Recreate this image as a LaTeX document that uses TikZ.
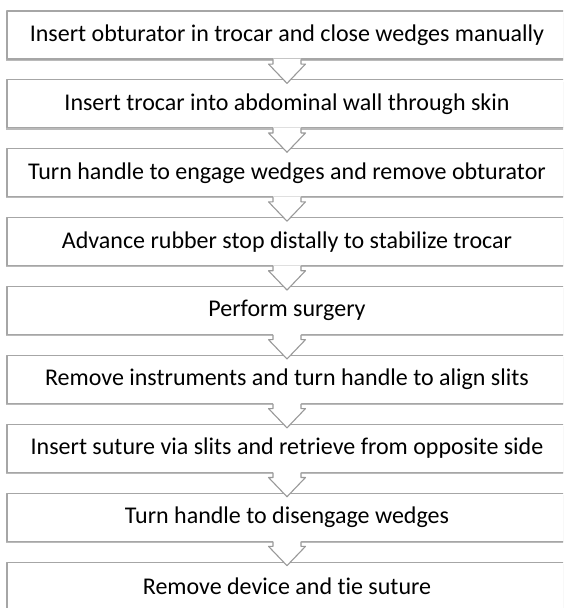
\documentclass[tikz,border=0pt]{standalone}
\usepackage{fontspec}
\setmainfont{Carlito}[Ligatures=NoCommon]
\usetikzlibrary{positioning,calc,shadows}

\begin{document}
\begin{tikzpicture}[x=1pt,y=1pt, line cap=round,line join=round,
		stepbox/.style={draw=black!35, line width=1.1pt, fill=white,
			minimum width=560pt, minimum height=48pt, inner sep=0pt,
			drop shadow={shadow xshift=-1.2pt, shadow yshift=-1.6pt, opacity=0.45, fill=black!60},
			font=\fontsize{24}{26}\selectfont},
		downarrow/.style={draw=black!40, line width=1.1pt, fill=white}]
	
	% ---- parameters
	\def\pitch{68.9}
	\def\stemW{14}
	\def\headW{18.5}
	\def\stemH{4.5}
	
	% page frame
	\useasboundingbox (0,0) rectangle (563,-608);
	\clip (0,0) rectangle (563,-608);
	
	% steps
	\foreach \txt [count=\i] in {
		Insert obturator in trocar and close wedges manually,
		Insert trocar into abdominal wall through skin,
		Turn handle to engage wedges and remove obturator,
		Advance rubber stop distally to stabilize trocar,
		Perform surgery,
		Remove instruments and turn handle to align slits,
		Insert suture via slits and retrieve from opposite side,
		Turn handle to disengage wedges,
		Remove device and tie suture}{
		\node[stepbox] (s\i) at (287, {-35-(\i-1)*\pitch}) {\txt};
	}
	
	% ---- block arrows between steps
	\foreach \i [evaluate=\i as \j using int(\i+1)] in {1,...,8}{
		\coordinate (top\i) at ($(s\i.south)+(0,1)$);
		\coordinate (tip\i) at ($(s\j.north)+(0,-4)$);
		\fill[white] ($(top\i)+(-\stemW,0)$) -- ($(s\i.south)+(-\stemW,-\stemH)$)
			-- ($(s\i.south)+(-\headW,-\stemH)$) -- (tip\i)
			-- ($(s\i.south)+(\headW,-\stemH)$) -- ($(s\i.south)+(\stemW,-\stemH)$)
			-- ($(top\i)+(\stemW,0)$) -- cycle;
		\draw[downarrow, fill=none] ($(s\i.south)+(-\stemW,0)$) -- ($(s\i.south)+(-\stemW,-\stemH)$)
			-- ($(s\i.south)+(-\headW,-\stemH)$) -- (tip\i)
			-- ($(s\i.south)+(\headW,-\stemH)$) -- ($(s\i.south)+(\stemW,-\stemH)$)
			-- ($(s\i.south)+(\stemW,0)$);
	}
	
\end{tikzpicture}
\end{document}
